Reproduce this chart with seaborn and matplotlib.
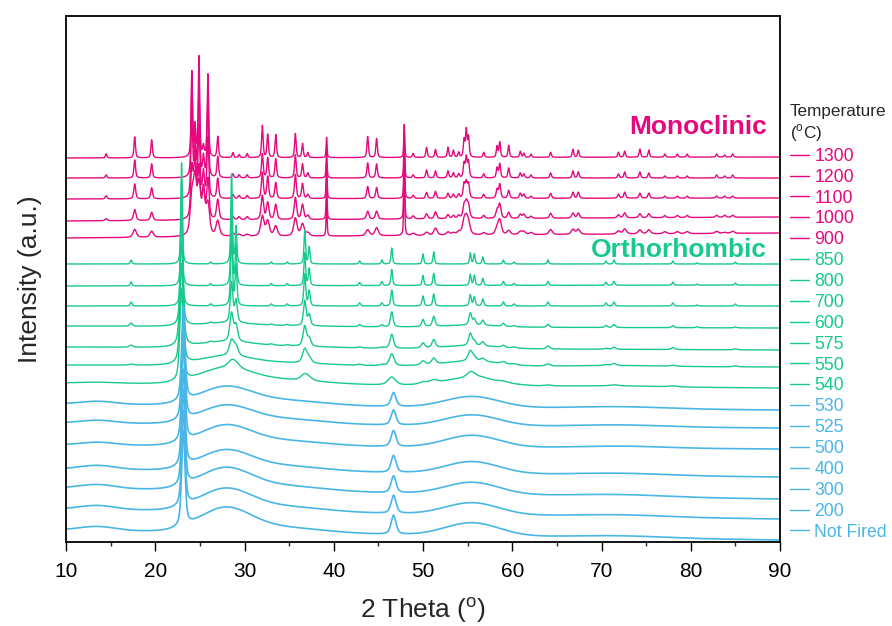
import numpy as np
import pandas as pd
import seaborn as sns
import matplotlib
matplotlib.use("Agg")
import matplotlib.pyplot as plt
from matplotlib.lines import Line2D
from matplotlib.ticker import MultipleLocator

# ---------------- data ----------------
samples = ["1300", "1200", "1100", "1000", "900",
           "850", "800", "700", "600", "575", "550", "540",
           "530", "525", "500", "400", "300", "200", "Not Fired"]
# vertical stacking: baseline level at 2θ=10° and at 2θ=90° (a.u.)
offset_left = [384, 364, 343, 321, 304, 278, 256, 236, 216, 195, 177, 159,
               138, 119, 97, 73, 54, 33, 12]
offset_right = [385, 364, 344, 325, 309, 278, 257, 236, 214, 192, 175, 154,
                132, 114, 93, 65, 43, 23, 2]
phase_of = ["M"] * 5 + ["O"] * 7 + ["A"] * 7

# monoclinic reflections (2θ) and heights for 1300, 1200, 1100, 1000, 900
mono_pos = [14.5, 17.7, 19.6, 24.1, 24.45, 24.9, 25.4, 25.9, 27.0, 28.7, 29.4,
            30.3, 32.0, 32.6, 33.5, 35.7, 36.5, 37.1, 39.2, 43.8, 44.8, 47.9,
            48.9, 50.4, 51.4, 52.8, 53.4, 54.0, 54.6, 54.85, 55.1, 56.8, 58.3,
            58.6, 59.6, 60.9, 61.3, 62.1, 64.3, 66.8, 67.4, 71.9, 72.6, 74.3,
            75.3, 77.1, 78.5, 79.6, 82.9, 83.8, 84.7]
mono_h_1300 = [4, 21, 18, 85, 30, 100, 10, 83, 21, 5, 3, 4, 32, 23, 23, 24, 14, 5,
               20, 21, 19, 33, 4, 10, 8, 10, 7, 5, 17, 27, 20, 5, 11, 15, 12, 6, 4,
               3, 5, 8, 7, 5, 6, 8, 7, 3, 3, 3, 3, 2, 3]
mono_h_1200 = [3, 18, 14, 90, 40, 85, 20, 75, 21, 4, 3, 3, 24, 20, 19, 23, 14, 5,
               28, 15, 14, 45, 3, 8, 7, 7, 5, 4, 14, 20, 16, 4, 10, 14, 10, 5, 4,
               3, 5, 7, 6, 4, 6, 6, 5, 2, 2, 2, 3, 2, 3]
mono_h_1100 = [3, 15, 11, 80, 45, 70, 25, 60, 20, 4, 3, 3, 26, 22, 16, 24, 15, 4,
               35, 12, 11, 55, 3, 6, 7, 5, 4, 4, 14, 15, 14, 4, 9, 14, 8, 5, 4,
               2, 5, 6, 6, 4, 6, 5, 5, 2, 2, 2, 2, 2, 2]
mono_h_1000 = [2, 11, 8, 50, 55, 50, 30, 40, 20, 3, 3, 3, 24, 17, 15, 22, 15, 4,
               40, 8, 8, 65, 3, 5, 7, 4, 3, 3, 12, 14, 12, 3, 8, 14, 6, 4, 4,
               2, 5, 5, 5, 3, 5, 4, 4, 2, 2, 2, 2, 2, 2]
mono_h_900 = [0, 8, 6, 35, 50, 45, 40, 30, 15, 3, 2, 2, 20, 15, 10, 18, 12, 3,
              35, 6, 8, 75, 2, 3, 7, 3, 2, 3, 12, 12, 10, 2, 6, 14, 4, 3, 3,
              2, 5, 5, 5, 3, 5, 4, 4, 2, 2, 2, 2, 1, 2]
mono_fwhm = [0.20, 0.22, 0.25, 0.32, 0.45]
mono_sharp = [39.2, 47.9]

# orthorhombic reflections and heights for 850, 800, 700, 600, 575, 550, 540
ortho_pos = [17.3, 22.95, 26.2, 28.55, 29.05, 33.0, 34.8, 36.75, 37.25, 42.9,
             45.4, 46.5, 50.0, 51.2, 55.3, 55.75, 56.7, 59.0, 60.2, 64.0, 70.5,
             71.4, 78.0, 80.7, 85.0]
ortho_h_850 = [4, 102, 2, 90, 37, 2, 2, 34, 17, 3, 4, 16, 10, 12, 11, 10, 7, 4,
               2, 4, 3, 4, 3, 1, 2]
ortho_h_800 = [4, 105, 2, 85, 40, 2, 2, 33, 17, 3, 4, 16, 10, 12, 11, 10, 7, 4,
               2, 4, 3, 4, 3, 1, 2]
ortho_h_700 = [4, 108, 2, 70, 40, 2, 2, 32, 15, 3, 3, 16, 10, 12, 11, 9, 7, 4,
               2, 4, 3, 4, 3, 1, 2]
ortho_h_600 = [3, 110, 1, 40, 22, 1, 1, 25, 11, 2, 2, 15, 7, 10, 12, 6, 5, 3,
               1, 3, 2, 3, 2, 1, 1]
ortho_h_575 = [2, 105, 1, 28, 16, 1, 1, 20, 8, 1, 1, 14, 5, 8, 12, 4, 4, 2,
               1, 3, 1, 2, 2, 0, 1]
ortho_h_550 = [1, 100, 0, 15, 9, 0, 0, 14, 5, 1, 1, 12, 4, 6, 10, 3, 3, 2,
               1, 2, 1, 2, 1, 0, 1]
ortho_h_540 = [0, 92, 0, 6, 4, 0, 0, 6, 2, 0, 0, 8, 2, 3, 5, 2, 1, 1,
               0, 1, 0, 1, 1, 0, 0]
ortho_fwhm = [0.20, 0.22, 0.25, 0.35, 0.45, 0.60, 1.00]

# amorphous-stage reflections: ~23.1° and 46.7°, heights for 530 ... Not Fired
amor_pos = [23.15, 46.7]
amor_h = [[95, 14], [95, 15], [96, 16], [96, 17], [95, 17], [95, 18], [95, 19]]
amor_fwhm = [0.45, 0.65]

# broad amorphous humps (centre, width) and heights for each sample
hump_pos = [13.5, 27.8, 33.5, 55.5, 72.0]
hump_sig = [2.0, 2.8, 5.0, 3.0, 5.0]
hump_h = {"600": [0, 3, 1, 2, 0], "575": [0, 5, 2, 3, 0], "550": [0, 8, 3, 5, 1],
          "540": [1, 14, 5, 8, 1], "530": [3, 16, 6, 11, 2], "525": [3, 16, 6, 11, 2],
          "500": [3, 18, 6, 12, 2], "400": [4, 18, 6, 12, 2], "300": [4, 20, 6, 12, 2],
          "200": [4, 20, 6, 12, 2], "Not Fired": [4, 22, 6, 13, 2]}

colors = {"M": "#E5087F", "O": "#17C98C", "A": "#49B6E6"}

# ---------------- build profiles ----------------
x = np.arange(10.0, 90.0001, 0.02)


def pv(x0, h, w):
    g = np.exp(-4 * np.log(2) * (x - x0) ** 2 / w ** 2)
    lor = 1.0 / (1.0 + 4 * (x - x0) ** 2 / w ** 2)
    return h * (0.55 * lor + 0.45 * g)


mono_h = [mono_h_1300, mono_h_1200, mono_h_1100, mono_h_1000, mono_h_900]
ortho_h = [ortho_h_850, ortho_h_800, ortho_h_700, ortho_h_600, ortho_h_575,
           ortho_h_550, ortho_h_540]

rows = []
for i, s in enumerate(samples):
    y = np.interp(x, [10, 90], [offset_left[i], offset_right[i]])
    ph = phase_of[i]
    if ph == "M":
        for p, h in zip(mono_pos, mono_h[i]):
            w = 0.13 if p in mono_sharp else mono_fwhm[i]
            y = y + pv(p, h, w)
    elif ph == "O":
        j = i - 5
        for p, h in zip(ortho_pos, ortho_h[j]):
            w = min(ortho_fwhm[j], 0.45) if p == 22.95 else ortho_fwhm[j]
            y = y + pv(p, h, w)
    else:
        j = i - 12
        for p, h, w in zip(amor_pos, amor_h[j], amor_fwhm):
            y = y + pv(p, h, w)
    if s in hump_h:
        for c, sg, h in zip(hump_pos, hump_sig, hump_h[s]):
            y = y + h * np.exp(-0.5 * ((x - c) / sg) ** 2)
    rows.append(pd.DataFrame({"two_theta": x, "intensity": y, "sample": s}))

df = pd.concat(rows, ignore_index=True)
palette = {s: colors[phase_of[i]] for i, s in enumerate(samples)}
widths = {"M": 1.0, "O": 1.0, "A": 1.2}

# ---------------- plot ----------------
sns.set_theme(style="white")
plt.rcParams["font.family"] = ["Liberation Sans", "DejaVu Sans"]
plt.rcParams["mathtext.fontset"] = "custom"
plt.rcParams["mathtext.rm"] = "Liberation Sans"

fig = plt.figure(figsize=(8.92, 6.26), dpi=100)
ax = fig.add_axes([66 / 892, 1 - 542 / 626, (780 - 66) / 892, (542 - 16) / 626])

sns.lineplot(data=df, x="two_theta", y="intensity", hue="sample",
             hue_order=samples, palette=palette, estimator=None, sort=False,
             linewidth=1.0, legend=False, ax=ax)
for line, i in zip(ax.get_lines(), range(len(samples))):
    line.set_linewidth(widths[phase_of[i]])

ax.set_xlim(10, 90)
ax.set_ylim(0, 526)
ax.xaxis.set_major_locator(MultipleLocator(10))
ax.xaxis.set_minor_locator(MultipleLocator(5))
ax.set_yticks([])
ax.tick_params(axis="x", which="major", direction="out", length=6.5, width=1.0,
               labelsize=15, pad=8, bottom=True, colors="black")
ax.tick_params(axis="x", which="minor", direction="out", length=3, width=1.0,
               bottom=True)
for sp in ax.spines.values():
    sp.set_visible(True)
    sp.set_color("black")
    sp.set_linewidth(1.3)

ax.set_xlabel("2 Theta ($^{\\rm o}$)", fontsize=19, labelpad=10)
ax.set_ylabel("Intensity (a.u.)", fontsize=19, labelpad=17)

ax.text(88.5, 415, "Monoclinic", ha="right", va="center", color=colors["M"],
        fontsize=19, fontweight="bold")
ax.text(88.5, 292, "Orthorhombic", ha="right", va="center", color=colors["O"],
        fontsize=19, fontweight="bold")

handles = [Line2D([], [], color=palette[s], lw=1.0) for s in samples]
leg = ax.legend(handles, samples, title="Temperature\n($^{\\rm o}$C)",
                loc="upper left", bbox_to_anchor=(786 / 892, 1 - 100.5 / 626),
                bbox_transform=fig.transFigure, frameon=False, fontsize=12.7,
                title_fontsize=12.3, handlelength=1.1, handletextpad=0.3,
                labelspacing=0.22, borderpad=0.2, borderaxespad=0)
leg._legend_box.align = "left"
for t, s in zip(leg.get_texts(), samples):
    t.set_color(palette[s])

fig.savefig("out.png", dpi=100)
